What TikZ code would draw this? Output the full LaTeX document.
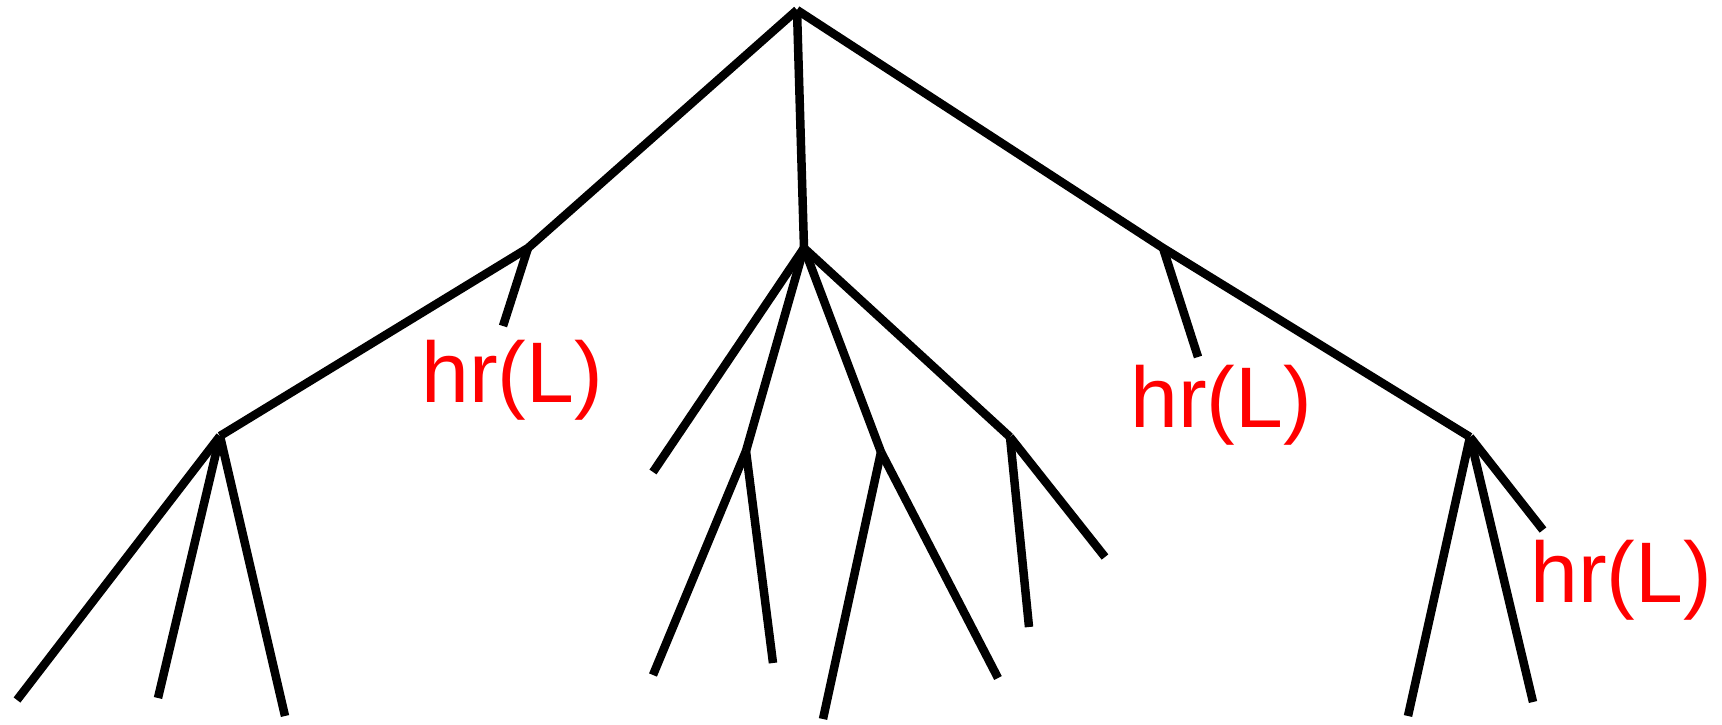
\documentclass[tikz,border=0pt]{standalone}
\usepackage{fontspec}
\setmainfont{Liberation Sans}
\begin{document}
\begin{tikzpicture}[x=1pt,y=-1pt,
  branch/.style={line width=8.5pt,black,line join=round},
  hlabel/.style={text=red,font=\fontsize{86}{90}\selectfont,inner sep=0pt,anchor=base}]
\useasboundingbox (0,0) rectangle (1722,724);
% junctions
\coordinate (root) at (797,10);
\coordinate (A) at (528,248);
\coordinate (B) at (220,436);
\coordinate (C) at (804,248);
\coordinate (D) at (746,451);
\coordinate (E) at (881,452);
\coordinate (F) at (1010,437);
\coordinate (G) at (1163,248);
\coordinate (H) at (1470,437);
% leaves
\coordinate (a1) at (503,326);
\coordinate (b1) at (17,700);
\coordinate (b2) at (158,698);
\coordinate (b3) at (285,716);
\coordinate (c1) at (653,472);
\coordinate (d1) at (653,675);
\coordinate (d2) at (773,663);
\coordinate (e1) at (823,719);
\coordinate (e2) at (998,678);
\coordinate (f1) at (1029,627);
\coordinate (f2) at (1105,557);
\coordinate (g1) at (1198,357);
\coordinate (h1) at (1408,716);
\coordinate (h2) at (1533,702);
\coordinate (h3) at (1543,530);
% edges
\draw[branch] (root) -- (A) -- (B);
\draw[branch] (A) -- (a1);
\draw[branch] (B) -- (b1);
\draw[branch] (B) -- (b2);
\draw[branch] (B) -- (b3);
\draw[branch] (root) -- (C);
\draw[branch] (C) -- (c1);
\draw[branch] (C) -- (D);
\draw[branch] (C) -- (E);
\draw[branch] (C) -- (F);
\draw[branch] (D) -- (d1);
\draw[branch] (D) -- (d2);
\draw[branch] (E) -- (e1);
\draw[branch] (E) -- (e2);
\draw[branch] (F) -- (f1);
\draw[branch] (F) -- (f2);
\draw[branch] (root) -- (G) -- (H);
\draw[branch] (G) -- (g1);
\draw[branch] (H) -- (h1);
\draw[branch] (H) -- (h2);
\draw[branch] (H) -- (h3);
% labels
\node[hlabel] (l1) at (512,402) {hr(L)};
\node[hlabel] (l2) at (1221,427) {hr(L)};
\node[hlabel] (l3) at (1621,602) {hr(L)};
\end{tikzpicture}
\end{document}
